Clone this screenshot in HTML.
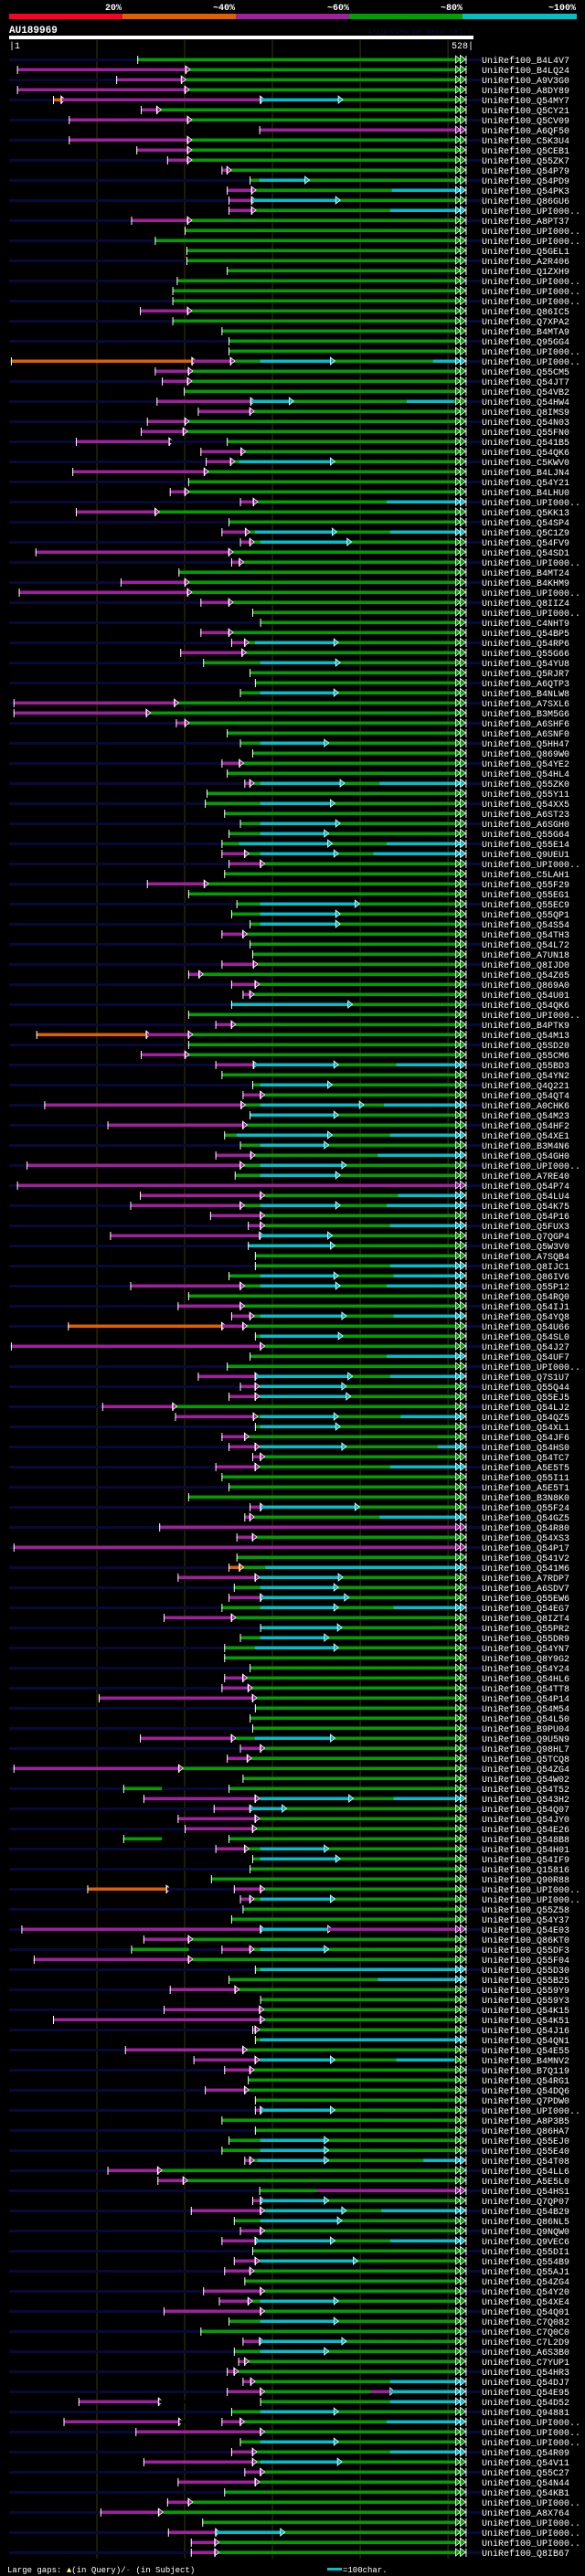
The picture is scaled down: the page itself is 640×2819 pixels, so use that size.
<!DOCTYPE html>
<html><head><meta charset="utf-8">
<style>
html,body{margin:0;padding:0;background:#000;}
svg{display:block;}
text{font-family:"Liberation Mono",monospace;}
</style></head>
<body>
<svg id="chart" width="640" height="2819" viewBox="0 0 640 2819" xmlns="http://www.w3.org/2000/svg">
<rect x="0" y="0" width="640" height="2819" fill="#000"/>
<g>
<rect x="10" y="15" width="124" height="6" fill="#ff0022"/>
<rect x="134" y="15" width="124" height="6" fill="#e06000"/>
<rect x="258" y="15" width="124" height="6" fill="#a020a0"/>
<rect x="382" y="15" width="124" height="6" fill="#00a000"/>
<rect x="506" y="15" width="125" height="6" fill="#00c0c8"/>
<text x="133" y="11" fill="#fff" font-size="10" font-weight="bold" text-anchor="end">20%</text>
<text x="257" y="11" fill="#fff" font-size="10" font-weight="bold" text-anchor="end">~40%</text>
<text x="382" y="11" fill="#fff" font-size="10" font-weight="bold" text-anchor="end">~60%</text>
<text x="506" y="11" fill="#fff" font-size="10" font-weight="bold" text-anchor="end">~80%</text>
<text x="630" y="11" fill="#fff" font-size="10" font-weight="bold" text-anchor="end">~100%</text>
</g>
<text x="10" y="36" fill="#fff" font-size="11" font-weight="bold">AU189969</text>
<text x="402" y="37" fill="#0a0a40" font-size="8.5" textLength="114">AlignView.pm Beta rel.7</text>
<rect x="10" y="39" width="508" height="4" fill="#fff"/>
<text x="10" y="53" fill="#fff" font-size="10">|1</text>
<text x="518" y="53" fill="#fff" font-size="10" text-anchor="end">528|</text>
<g id="grid"></g>
<g id="rows"></g>
<g>
<text x="8" y="2815" fill="#fff" font-size="9">Large gaps: <tspan fill="#ffff80">▲</tspan>(in Query)/<tspan fill="#00c0c8">-</tspan> (in Subject)</text>
<rect x="358" y="2810" width="16" height="3" fill="#00c0c8"/>
<text x="375" y="2815" fill="#fff" font-size="9">=100char.</text>
</g>
</svg>
<script>
const gridTicks = [100, 200, 300, 400, 500];
const queryLength = 528;
const rowStart = [
146,9,122,9,50,150,68,285,68,145,
180,242,274,248,250,250,139,200,166,202,
202,248,191,186,186,149,186,242,250,250,
2,166,174,199,168,215,157,150,76,218,
224,72,204,183,263,76,250,242,263,30,
253,193,127,11,218,277,286,218,253,195,
221,274,280,263,5,5,190,248,263,277,
242,248,268,225,223,245,263,250,242,242,
250,245,157,204,259,253,274,242,274,277,
242,204,253,266,253,204,235,31,204,150,
235,242,277,266,40,274,112,245,263,235,
20,257,9,149,138,229,272,115,272,280,
280,250,138,204,192,253,67,280,2,274,
248,215,263,250,106,189,280,242,250,277,
235,242,250,204,274,268,171,259,5,259,
250,192,256,250,242,176,286,263,245,245,
274,245,242,102,280,274,277,149,263,248,
5,266,130,153,233,192,200,130,235,277,
274,230,89,263,266,253,14,153,139,28,
280,250,183,286,176,50,277,280,132,210,
245,272,223,280,280,242,280,250,242,268,
112,169,285,277,207,256,263,242,277,256,
245,268,221,239,176,250,218,266,256,261,
248,266,248,79,253,62,144,263,253,153,
268,192,245,180,104,220,181,207,207
];
const rowSegs = [
"","p9-201","p122-196","p9-200","o50-59 p59-286 c286-375","p150-168","p68-203","p285-517","p68-203","p145-203",
"p180-203","p242-248","c285-337","p248-276 c436-517","p250-276 c276-372","p250-276 c434-517","p139-203","","","",
"","","","","","p149-203","","","","",
"o2-208 p208-252 c286-366 c483-510","p166-204","p174-203","","p168-275 c275-319 c453-507","p215-274","p157-200","p150-198","p76-182 n182-248","p218-264",
"p224-252 c262-366","p72-222","","p183-200","p263-278 c430-514","p76-166","","p242-269 c280-368 c434-514","p263-274 c286-385","p30-250",
"p253-262","","p127-200","p11-203","p218-250","","","p218-250","p253-268 c280-370","p195-265",
"c286-372","","","c286-370","p5-188","p5-156","p190-200","","c286-359","",
"p242-262","","p268-274 c286-377 c422-517","","c286-366","","c286-372","c286-359","c262-363 c430-514","p242-268 c286-370 c415-514",
"p250-286","","p157-222","","c286-394","c286-372","c286-372","p242-266","","",
"p242-278","p204-216","p253-280","p266-274","c253-386","","p235-253","o31-156 p156-204","","p150-200",
"p235-278 c278-370 c441-514","","c286-363","p266-286","p40-264 c286-399 c427-514","c274-370","p112-266","c259-363 c434-514","c286-359","p235-275 c420-514",
"p20-263 c286-379","c286-372","p9-514","p149-286 c443-514","p138-263 c286-372 c430-514","p229-286","p272-286 c434-514","p115-285 c285-363","c272-366","",
"c434-514","c286-370 c438-514","p138-263 c286-372 c430-514","","p192-263","p253-274 c286-379 c438-514","o67-242 p242-266","c286-375","p2-286","c430-514",
"","p215-280 c280-386 c434-514","p263-280 c286-379","p250-280 c286-384","p106-186","p189-278 c286-370 c446-514","c286-372","p242-268","p250-280 c286-379 c488-514","p277-286",
"p235-280 c434-514","","","","p274-286 c286-394","p268-274 c422-514","p171-517","p259-277","p5-517","",
"o250-262 c292-514","p192-280 c286-375","c286-370","p250-286 c286-382","c286-370 c438-514","p176-253","c286-374","c286-359","c280-370","",
"","p245-266","p242-272","p102-277","","","","p149-253 c280-366","p263-286","p248-271",
"p5-193","","n174-250","p153-280 c286-387 c438-514","p233-274 c274-311","p192-280","p200-277","n174-250","p235-268 c286-359","c286-372",
"","","o89-179 n179-256 p256-286","p263-274 c286-366","","","p14-286 c286-363 p363-517","p153-204","n205-242 p242-274 c286-359","p28-204",
"c286-514","c420-514","p183-257","","p176-285","p50-286","p277-280","c286-514","p132-266","p210-280 c286-366 c441-507",
"p245-274","","p223-268","","p280-286 c286-366","","","c286-359","c286-359","p268-274 c283-359 c472-514",
"p112-169","p169-198","p351-514","p277-286 c286-359","p207-286 c292-379 c424-514","c286-374","p263-286","p242-280 c280-366 c434-514","","p256-280 c286-392",
"p245-274","","p221-286","p239-272 c286-370","p176-286","c286-370","","p266-285 c285-379","c286-359","p261-268",
"p248-256","p266-275 c434-514","p248-286 p412-434 c434-514","p79-170 n170-286 c434-514","c286-370","p62-193 n193-242 p242-263 c430-514","p144-286","c286-370","p253-277 c434-514","p153-277 c286-374",
"p268-286","p192-280","","p180-204","p104-170","","p181-235 c235-309","p207-234","p207-234"
];
const rowNames = [
"B4L4V7","B4LQ24","A9V3G0","A8DY89","Q54MY7","Q5CY21","Q5CV09","A6QF50","C5K3U4","Q5CEB1",
"Q55ZK7","Q54P79","Q54PD9","Q54PK3","Q86GU6","UPI000..","A8PT37","UPI000..","UPI000..","Q5GEL1",
"A2R406","Q1ZXH9","UPI000..","UPI000..","UPI000..","Q86IC5","Q7XPA2","B4MTA9","Q95GG4","UPI000..",
"UPI000..","Q55CM5","Q54JT7","Q54VB2","Q54HW4","Q8IMS9","Q54N03","Q55FN0","Q541B5","Q54QK6",
"C5KWV0","B4LJN4","Q54Y21","B4LHU0","UPI000..","Q5KK13","Q54SP4","Q5C1Z9","Q54FV9","Q54SD1",
"UPI000..","B4MT24","B4KHM9","UPI000..","Q8IIZ4","UPI000..","C4NHT9","Q54BP5","Q54RP6","Q55G66",
"Q54YU8","Q5RJR7","A6QTP3","B4NLW8","A7SXL6","B3M5G6","A6SHF6","A6SNF0","Q5HH47","Q869W0",
"Q54YE2","Q54HL4","Q55ZK0","Q55Y11","Q54XX5","A6ST23","A6SGH0","Q55G64","Q55E14","Q9UEU1",
"UPI000..","C5LAH1","Q55F29","Q55EG1","Q55EC9","Q55QP1","Q54S54","Q54TH3","Q54L72","A7UN18",
"Q8IJD0","Q54Z65","Q869A0","Q54U01","Q54QK6","UPI000..","B4PTK9","Q54M13","Q5SD20","Q55CM6",
"Q55BD3","Q54YN2","Q4Q221","Q54QT4","A0CHK6","Q54M23","Q54HF2","Q54XE1","B3M4N6","Q54GH0",
"UPI000..","A7RE40","Q54P74","Q54LU4","Q54K75","Q54P16","Q5FUX3","Q7QGP4","Q5W3V0","A7SQB4",
"Q8IJC1","Q86IV6","Q55P12","Q54RQ0","Q54IJ1","Q54YQ8","Q54U66","Q54SL0","Q54J27","Q54UF7",
"UPI000..","Q7S1U7","Q55Q44","Q55EJ5","Q54LJ2","Q54QZ5","Q54XL1","Q54JF6","Q54HS0","Q54TC7",
"A5E5T5","Q55I11","A5E5T1","B3N8K0","Q55F24","Q54GZ5","Q54R80","Q54XS3","Q54P17","Q541V2",
"Q541M6","A7RDP7","A6SDV7","Q55EW6","Q54EG7","Q8IZT4","Q55PR2","Q55DR9","Q54YN7","Q8Y9G2",
"Q54Y24","Q54HL6","Q54TT8","Q54P14","Q54M54","Q54L50","B9PU04","Q9U5N9","Q98HL7","Q5TCQ8",
"Q54ZG4","Q54W02","Q54T52","Q543H2","Q54Q07","Q54JY0","Q54E26","Q548B8","Q54H01","Q54IF9",
"Q15816","Q90R88","UPI000..","UPI000..","Q55Z58","Q54Y37","Q54E03","Q86KT0","Q55DF3","Q55F04",
"Q55D30","Q55B25","Q559Y9","Q559Y3","Q54K15","Q54K51","Q54J16","Q54QN1","Q54E55","B4MNV2",
"B7Q119","Q54RG1","Q54DQ6","Q7PDW0","UPI000..","A8P3B5","Q86HA7","Q55EJ0","Q55E40","Q54T08",
"Q54LL6","A5E5L0","Q54HS1","Q7QP07","Q54B29","Q86NL5","Q9NQW0","Q9VEC6","Q55DI1","Q554B9",
"Q55AJ1","Q54ZG4","Q54Y20","Q54XE4","Q54Q01","C7Q082","C7Q0C0","C7L2D9","A6S3B0","C7YUP1",
"Q54HR3","Q54DJ7","Q54E95","Q54D52","Q94881","UPI000..","UPI000..","UPI000..","Q54R09","Q54V11",
"Q55C27","Q54N44","Q54KB1","UPI000..","A8X764","UPI000..","UPI000..","UPI000..","Q8IB67"
];

const NS = "http://www.w3.org/2000/svg";
const colors = {g:"#00a000", p:"#a020a0", c:"#00c0c8", o:"#e06000"};
function xScale(u){ return 10 + u * (507 / queryLength); }
function yScale(i){ return 65 + i * 11; }
function mk(tag, attrs, parent){
  const e = document.createElementNS(NS, tag);
  for (const k in attrs) e.setAttribute(k, attrs[k]);
  parent.appendChild(e);
  return e;
}
const grid = document.getElementById('grid');
gridTicks.forEach(t => {
  const l = mk('line', {x1:xScale(t), x2:xScale(t), y1:44, y2:2800, stroke:'#3a3a00', 'stroke-width':1}, grid);
  
  
});
const rowsG = document.getElementById('rows');
const END = 517;
rowStart.forEach((start, i) => {
  const cy = yScale(i);
  const g = mk('g', {}, rowsG);
  
  
  const navy = i % 2 === 0;
  if (navy) {
    const n = mk('rect', {x:10, y:cy-1, width:517, height:3, fill:'#08083a'}, g);
    
    
  }
  const base = mk('rect', {x:xScale(start), y:cy-1.5, width:xScale(END)-xScale(start), height:3.5, fill:colors.g}, g);
  
  
  let lastColor = 'g';
  const tickPos = [start];
  const segs = rowSegs[i] ? rowSegs[i].split(' ') : [];
  segs.forEach(s => {
    const c = s[0];
    const [a, b] = s.slice(1).split('-').map(Number);
    const fill = c === 'n' ? (navy ? '#08083a' : '#000') : colors[c];
    const h = c === 'n' ? 3.5 : 3.5;
    if (c === 'n') {
      mk('rect', {x:xScale(a), y:cy-1.5, width:xScale(b)-xScale(a), height:h, fill:'#000'}, g);
      if (navy) mk('rect', {x:xScale(a), y:cy-1, width:xScale(b)-xScale(a), height:3, fill:'#08083a'}, g);
      tickPos.push(b);
      return;
    }
    const r = mk('rect', {x:xScale(a), y:cy-1.5, width:xScale(b)-xScale(a), height:3.5, fill:fill}, g);
    
    
    if (b < 300) tickPos.push(b);
    if (b >= 510) lastColor = c;
    if (b < 505) {
      const xb = xScale(b);
      mk('polygon', {points:`${xb},${cy-4} ${xb+5},${cy} ${xb},${cy+4}`, fill:fill, stroke:'#fff', 'stroke-width':0.8}, g);
    }
  });
  tickPos.forEach(t => {
    mk('rect', {x:xScale(t), y:cy-4, width:1, height:9, fill:'#fff'}, g);
  });
  const ex = xScale(END);
  mk('polygon', {points:`${ex-8},${cy-4} ${ex-3},${cy} ${ex-8},${cy+4}`, fill:colors[lastColor], stroke:'#fff', 'stroke-width':0.8}, g);
  const arrow = mk('polygon', {points:`${ex-3},${cy-4.5} ${ex+3},${cy} ${ex-3},${cy+4.5}`, fill:colors[lastColor === 'c' ? 'c' : lastColor], stroke:'#fff', 'stroke-width':0.8}, g);
  
  
  mk('rect', {x:ex+3, y:cy-4, width:1, height:9, fill:'#fff'}, g);
  const t = mk('text', {x:527, y:cy+4, fill:'#fff', 'font-size':10}, g);
  t.textContent = 'UniRef100_' + rowNames[i];
  
  
});
</script>
</body></html>
